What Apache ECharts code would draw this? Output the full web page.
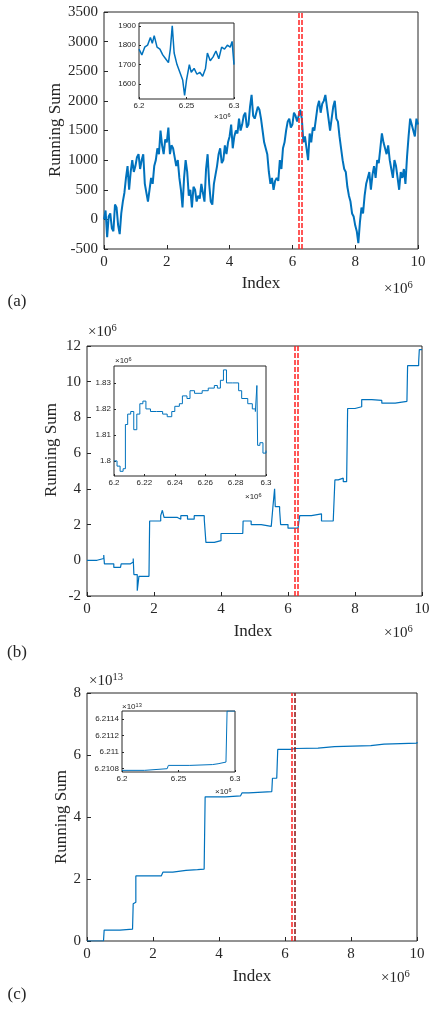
<!DOCTYPE html>
<html><head><meta charset="utf-8">
<script src="https://cdn.jsdelivr.net/npm/echarts@6/dist/echarts.min.js"></script>
<style>html,body{margin:0;padding:0;background:#fff}#c{width:436px;height:1011px}</style>
</head><body><div id="c"></div>
<script>
// x in units of 1e6; panel (b) y in 1e6; panel (c) y in 1e13
var sumA = [[0,0],[0.05,150],[0.1,-300],[0.15,50],[0.2,100],[0.25,-150],[0.3,-200],[0.35,250],[0.4,200],[0.45,-100],[0.5,-250],[0.55,100],[0.6,300],[0.65,450],[0.7,700],[0.75,900],[0.8,500],[0.85,800],[0.9,1000],[0.95,800],[1.0,900],[1.05,1050],[1.1,1100],[1.15,850],[1.2,1000],[1.25,1100],[1.3,600],[1.35,450],[1.4,300],[1.45,500],[1.5,700],[1.55,600],[1.6,900],[1.65,1000],[1.7,1200],[1.75,1100],[1.8,1500],[1.85,1250],[1.9,1100],[1.95,1350],[2.0,1300],[2.05,1550],[2.1,1100],[2.15,1250],[2.2,1200],[2.25,1050],[2.3,900],[2.35,1000],[2.4,700],[2.45,500],[2.5,200],[2.55,700],[2.6,1000],[2.65,800],[2.7,400],[2.75,500],[2.8,200],[2.85,550],[2.9,500],[2.95,300],[3.0,400],[3.05,350],[3.1,600],[3.15,450],[3.2,300],[3.25,850],[3.3,1100],[3.35,600],[3.4,300],[3.45,250],[3.5,600],[3.55,750],[3.6,900],[3.65,1100],[3.7,1200],[3.75,950],[3.8,1000],[3.85,1250],[3.9,1100],[3.95,1300],[4.0,1400],[4.05,1600],[4.1,1200],[4.15,1400],[4.2,1500],[4.25,1450],[4.3,1700],[4.35,1500],[4.4,1600],[4.45,1750],[4.5,1800],[4.55,1550],[4.6,1600],[4.65,1900],[4.7,2100],[4.75,1750],[4.8,1700],[4.85,1800],[4.9,1900],[4.95,1850],[5.0,1700],[5.05,1500],[5.1,1300],[5.15,1200],[5.2,1100],[5.25,800],[5.3,600],[5.35,700],[5.4,500],[5.45,650],[5.5,700],[5.55,650],[5.6,1000],[5.65,850],[5.7,1200],[5.75,1300],[5.8,1500],[5.85,1650],[5.9,1700],[5.95,1550],[6.0,1600],[6.05,1800],[6.1,1750],[6.15,1650],[6.2,1750],[6.25,1850],[6.3,1700],[6.35,1300],[6.4,1400],[6.45,1200],[6.5,1000],[6.55,1450],[6.6,1300],[6.65,1550],[6.7,1500],[6.75,1700],[6.8,1900],[6.85,2000],[6.9,1800],[6.95,1950],[7.0,2000],[7.05,2100],[7.1,1900],[7.15,1700],[7.2,1500],[7.25,1700],[7.3,1900],[7.35,2000],[7.4,1700],[7.45,1650],[7.5,1400],[7.55,1200],[7.6,1000],[7.65,850],[7.7,800],[7.75,550],[7.8,400],[7.85,300],[7.9,100],[7.95,50],[8.0,-100],[8.05,-200],[8.1,-400],[8.15,-50],[8.2,200],[8.25,100],[8.3,400],[8.35,600],[8.4,700],[8.45,800],[8.5,500],[8.55,750],[8.6,900],[8.65,700],[8.7,1000],[8.75,950],[8.8,1200],[8.85,1450],[8.9,1300],[8.95,1200],[9.0,1100],[9.05,1250],[9.1,1000],[9.15,850],[9.2,700],[9.25,1000],[9.3,900],[9.35,700],[9.4,500],[9.45,800],[9.5,700],[9.55,850],[9.6,600],[9.65,1050],[9.7,1400],[9.75,1700],[9.8,1600],[9.85,1500],[9.9,1400],[9.95,1700],[10,1600]];
var zoomA = [[6.200,1780],[6.203,1750],[6.206,1790],[6.209,1800],[6.212,1840],[6.214,1810],[6.216,1850],[6.219,1790],[6.222,1780],[6.225,1750],[6.228,1730],[6.231,1710],[6.233,1780],[6.235,1900],[6.237,1760],[6.240,1700],[6.243,1660],[6.246,1620],[6.248,1540],[6.250,1620],[6.253,1700],[6.255,1660],[6.258,1680],[6.261,1650],[6.264,1660],[6.267,1640],[6.270,1680],[6.272,1760],[6.275,1720],[6.278,1740],[6.281,1770],[6.284,1730],[6.287,1790],[6.290,1780],[6.293,1800],[6.296,1790],[6.298,1820],[6.300,1700]];
var sumB = [[0,0],[0.3,0.1],[0.5,0.3],[0.52,-0.2],[0.8,-0.4],[1.0,-0.5],[1.02,-0.2],[1.3,-0.1],[1.38,0.1],[1.4,-0.8],[1.5,-1.7],[1.55,-0.9],[1.85,-0.9],[1.87,2.2],[2.2,2.5],[2.25,2.8],[2.3,2.4],[2.7,2.3],[2.8,2.5],[3.0,2.3],[3.2,2.5],[3.5,2.3],[3.55,1.0],[3.8,1.1],[4.0,1.5],[4.5,1.5],[4.65,1.5],[4.66,2.2],[4.9,2.0],[5.2,1.9],[5.5,1.8],[5.55,3.0],[5.6,4.0],[5.62,3.0],[5.75,2.8],[5.78,2.0],[6.0,1.8],[6.2,1.8],[6.3,1.85],[6.35,2.5],[6.7,2.6],[7.0,2.2],[7.35,2.1],[7.4,4.5],[7.5,4.6],[7.65,4.4],[7.75,4.4],[7.78,8.5],[8.0,8.6],[8.2,9.0],[8.5,8.95],[8.8,8.8],[9.0,8.8],[9.2,8.9],[9.55,9.0],[9.57,10.9],[9.9,11.1],[9.92,11.8],[10,11.8]];
var zoomB = [[6.200,1.800],[6.202,1.798],[6.204,1.796],[6.206,1.797],[6.207,1.797],[6.2075,1.814],[6.209,1.818],[6.211,1.819],[6.213,1.812],[6.215,1.818],[6.217,1.822],[6.219,1.823],[6.221,1.820],[6.224,1.819],[6.228,1.819],[6.232,1.818],[6.235,1.817],[6.238,1.819],[6.240,1.821],[6.243,1.822],[6.245,1.825],[6.248,1.824],[6.250,1.827],[6.253,1.826],[6.258,1.827],[6.262,1.828],[6.266,1.829],[6.268,1.828],[6.270,1.831],[6.272,1.835],[6.274,1.830],[6.278,1.830],[6.282,1.827],[6.284,1.824],[6.288,1.822],[6.291,1.820],[6.293,1.819],[6.294,1.829],[6.2945,1.806],[6.296,1.807],[6.298,1.803],[6.300,1.804]];
var sumC = [[0,0],[0.5,0],[0.52,0.35],[1.0,0.38],[1.38,0.4],[1.4,1.2],[1.45,1.25],[1.48,2.1],[2.0,2.1],[2.25,2.15],[2.3,2.22],[2.6,2.28],[3.0,2.3],[3.35,2.32],[3.55,2.35],[3.58,4.65],[4.2,4.68],[4.65,4.7],[4.7,4.78],[4.9,4.82],[5.6,4.87],[5.62,5.25],[5.75,5.28],[5.78,6.18],[6.2,6.21],[6.3,6.22],[7.0,6.27],[7.5,6.3],[8.6,6.35],[9.0,6.38],[10,6.42]];
var zoomC = [[6.20,6.21078],[6.22,6.2108],[6.24,6.21082],[6.241,6.21084],[6.26,6.21085],[6.28,6.21086],[6.285,6.21088],[6.292,6.21089],[6.293,6.2115],[6.30,6.2115]];
var windowEdges = [6.2, 6.3];
var zoomTicksA = {x: [6.2, 6.25, 6.3], y: [1600, 1700, 1800, 1900]};
var zoomTicksB = {x: [6.2, 6.22, 6.24, 6.26, 6.28, 6.3], y: [1.8, 1.81, 1.82, 1.83]};
var zoomTicksC = {x: [6.2, 6.25, 6.3], y: [6.2108, 6.211, 6.2112, 6.2114]};

var blue = '#0072BD';
var serif = 'Liberation Serif';
var sans = 'Liberation Sans';

var grids = [
  {left:104, top:12, width:314, height:237},
  {left:139, top:23, width:95, height:76},
  {left:87, top:346, width:335, height:250},
  {left:114, top:366, width:152, height:110},
  {left:87, top:693, width:330, height:248},
  {left:122, top:711, width:113, height:61}
].map(function(g){ g.show = true; g.borderColor = '#262626'; g.borderWidth = 1; g.backgroundColor = '#fff'; return g; });

function plain(v){ return String(+(+v).toFixed(4)); }
function mainAxis(idx, min, max, interval){
  return {gridIndex: idx, type: 'value', min: min, max: max, interval: interval,
    axisLine: {show: false, onZero: false}, splitLine: {show: false},
    axisTick: {inside: true, length: 4, lineStyle: {color: '#262626'}},
    axisLabel: {fontFamily: serif, fontSize: 15, color: '#262626', margin: 6, formatter: plain}};
}
function zoomAxis(idx, min, max, ticks){
  return {gridIndex: idx, type: 'value', min: min, max: max,
    axisLine: {show: false, onZero: false}, splitLine: {show: false},
    axisTick: {inside: true, length: 2, customValues: ticks, lineStyle: {color: '#262626'}},
    axisLabel: {fontFamily: sans, fontSize: 8, color: '#262626', margin: 3, customValues: ticks, formatter: plain}};
}

var xAxes = [
  mainAxis(0, 0, 10, 2), zoomAxis(1, 6.2, 6.3, zoomTicksA.x),
  mainAxis(2, 0, 10, 2), zoomAxis(3, 6.2, 6.3, zoomTicksB.x),
  mainAxis(4, 0, 10, 2), zoomAxis(5, 6.2, 6.3, zoomTicksC.x)
];
var yAxes = [
  mainAxis(0, -500, 3500, 500), zoomAxis(1, 1522, 1915, zoomTicksA.y),
  mainAxis(2, -2, 12, 2), zoomAxis(3, 1.7942, 1.8365, zoomTicksB.y),
  mainAxis(4, 0, 8, 2), zoomAxis(5, 6.21076, 6.2115, zoomTicksC.y)
];

function edges(secondColor){
  return {symbol: 'none', silent: true, label: {show: false},
    data: [
      {xAxis: windowEdges[0], lineStyle: {color: '#ff2020', type: [5, 2], width: 1.5}},
      {xAxis: windowEdges[1], lineStyle: {color: secondColor, type: [5, 2], width: 1.5}}
    ]};
}
function line(data, idx, width, mark, step){
  var s = {type: 'line', data: data, xAxisIndex: idx, yAxisIndex: idx, showSymbol: false,
    lineStyle: {color: blue, width: width}, animation: false};
  if (step) s.step = 'end';
  if (mark) s.markLine = mark;
  return s;
}

function sci(x, y, exp, size, family){
  return {type: 'text', left: x, top: y, style: {text: '×10{s|' + exp + '}', fontFamily: family, fontSize: size, fill: '#262626',
    rich: {s: {fontSize: size * 0.7, verticalAlign: 'top', padding: [0, 0, size * 0.5, 0], fontFamily: family, fill: '#262626'}}}};
}
function txt(x, y, t, size, rot){
  return {type: 'text', x: x, y: y, rotation: rot || 0, style: {text: t, fontFamily: serif, fontSize: size, fill: '#262626', align: 'center', verticalAlign: 'middle'}};
}

var chart = echarts.init(document.getElementById('c'));
chart.setOption({
  animation: false,
  grid: grids, xAxis: xAxes, yAxis: yAxes,
  series: [
    line(sumA, 0, 2, edges('#ff2020')),
    line(zoomA, 1, 1.5),
    line(sumB, 2, 1.2, edges('#ff2020'), true),
    line(zoomB, 3, 1, null, true),
    line(sumC, 4, 1.2, edges('#8a1010'), true),
    line(zoomC, 5, 1, null, true)
  ],
  graphic: [
    txt(261, 284, 'Index', 17), txt(56, 130, 'Running Sum', 17, Math.PI / 2), txt(17, 302, '(a)', 17),
    sci(384, 280, '6', 15, serif), sci(214, 112, '6', 8, sans),
    txt(253, 632, 'Index', 17), txt(52, 450, 'Running Sum', 17, Math.PI / 2), txt(17, 653, '(b)', 17),
    sci(384, 624, '6', 15, serif), sci(88, 323, '6', 15, serif),
    sci(245, 492, '6', 8, sans), sci(115, 356, '6', 8, sans),
    txt(252, 977, 'Index', 17), txt(62, 817, 'Running Sum', 17, Math.PI / 2), txt(17, 995, '(c)', 17),
    sci(381, 969, '6', 15, serif), sci(89, 672, '13', 15, serif),
    sci(215, 787, '6', 8, sans), sci(122, 702, '13', 8, sans)
  ]
});
</script></body></html>
